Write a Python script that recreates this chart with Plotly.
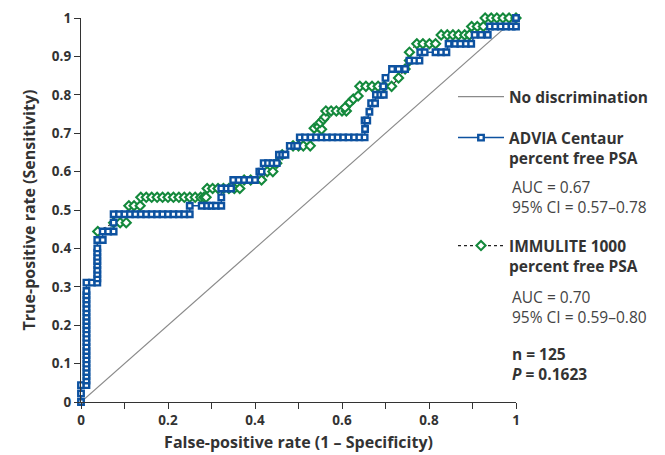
import plotly.graph_objects as go

# ---------------- data ----------------
diag_x = [0, 1]
diag_y = [0, 1]

advia_fpr = [
    0, 0, 0,
    0.0125, 0.0125, 0.0125, 0.0125, 0.0125, 0.0125, 0.0125, 0.0125, 0.0125, 0.0125,
    0.0125, 0.0125, 0.0125, 0.0125, 0.0125, 0.0125, 0.0125, 0.0125, 0.0125, 0.0125,
    0.0125, 0.0125, 0.0125, 0.0125,
    0.025, 0.0375,
    0.0375, 0.0375, 0.0375, 0.0375, 0.0375, 0.0375, 0.0375, 0.0375,
    0.0375, 0.05,
    0.05, 0.0625, 0.075,
    0.075, 0.075, 0.0875, 0.1, 0.1125, 0.125, 0.1375, 0.15, 0.1625, 0.175, 0.1875,
    0.2, 0.2125, 0.225, 0.2375, 0.25,
    0.25, 0.2775, 0.29, 0.3, 0.31, 0.3225,
    0.3225, 0.3225, 0.335, 0.345,
    0.35, 0.3625, 0.375, 0.3875, 0.4,
    0.41, 0.415,
    0.42, 0.43, 0.44, 0.45,
    0.455, 0.4625, 0.47,
    0.48, 0.49, 0.497,
    0.503, 0.515, 0.528, 0.54, 0.553, 0.565, 0.578, 0.59, 0.603, 0.615, 0.628,
    0.64, 0.652,
    0.653,
    0.652, 0.658,
    0.663,
    0.667, 0.676,
    0.678, 0.688, 0.696,
    0.695, 0.7,
    0.715, 0.73, 0.745,
    0.755, 0.767, 0.778,
    0.78, 0.79, 0.815, 0.828, 0.84,
    0.845, 0.86, 0.872, 0.885, 0.897,
    0.905, 0.92, 0.935,
    0.94, 0.952, 0.965, 0.977, 0.99, 1.0,
    1.0,
]
advia_tpr = [
    0, 0.022, 0.044,
    0.044, 0.056, 0.067, 0.078, 0.089, 0.1, 0.111, 0.122, 0.133, 0.144,
    0.156, 0.167, 0.178, 0.189, 0.2, 0.211, 0.222, 0.233, 0.244, 0.256,
    0.267, 0.278, 0.289, 0.311,
    0.311, 0.311,
    0.322, 0.333, 0.344, 0.356, 0.367, 0.378, 0.389, 0.4,
    0.422, 0.422,
    0.444, 0.444, 0.444,
    0.467, 0.489, 0.489, 0.489, 0.489, 0.489, 0.489, 0.489, 0.489, 0.489, 0.489,
    0.489, 0.489, 0.489, 0.489, 0.489,
    0.511, 0.511, 0.511, 0.511, 0.511, 0.511,
    0.533, 0.556, 0.556, 0.556,
    0.578, 0.578, 0.578, 0.578, 0.578,
    0.6, 0.6,
    0.622, 0.622, 0.622, 0.622,
    0.644, 0.644, 0.644,
    0.667, 0.667, 0.667,
    0.689, 0.689, 0.689, 0.689, 0.689, 0.689, 0.689, 0.689, 0.689, 0.689, 0.689,
    0.689, 0.689,
    0.711,
    0.733, 0.733,
    0.756,
    0.778, 0.778,
    0.8, 0.8, 0.8,
    0.822, 0.844,
    0.867, 0.867, 0.867,
    0.889, 0.889, 0.889,
    0.911, 0.911, 0.911, 0.911, 0.911,
    0.933, 0.933, 0.933, 0.933, 0.933,
    0.956, 0.956, 0.956,
    0.978, 0.978, 0.978, 0.978, 0.978, 0.978,
    1.0,
]

immulite_fpr = [
    0.0385,
    0.075, 0.09, 0.104,
    0.11, 0.122, 0.136,
    0.1375, 0.15, 0.1625, 0.175, 0.1875, 0.2, 0.2125, 0.225, 0.2375, 0.25, 0.2625,
    0.275, 0.2825, 0.2875,
    0.29, 0.3025, 0.315, 0.3275, 0.34, 0.3525, 0.365,
    0.375, 0.39, 0.415,
    0.428, 0.441,
    0.45, 0.4625,
    0.4875, 0.5, 0.511, 0.527,
    0.536, 0.546, 0.553, 0.55, 0.557, 0.561,
    0.563, 0.575, 0.587, 0.6, 0.61,
    0.607, 0.618, 0.626, 0.637,
    0.641, 0.655, 0.669, 0.683, 0.697,
    0.714, 0.73,
    0.745, 0.755, 0.755,
    0.772, 0.786, 0.801, 0.815,
    0.828, 0.842, 0.855, 0.868, 0.882, 0.893,
    0.898, 0.911, 0.925,
    0.929, 0.943, 0.956, 0.97, 0.984,
    1.0,
]
immulite_tpr = [
    0.444,
    0.467, 0.467, 0.467,
    0.511, 0.511, 0.511,
    0.533, 0.533, 0.533, 0.533, 0.533, 0.533, 0.533, 0.533, 0.533, 0.533, 0.533,
    0.533, 0.533, 0.533,
    0.556, 0.556, 0.556, 0.556, 0.556, 0.556, 0.556,
    0.578, 0.578, 0.578,
    0.6, 0.6,
    0.622, 0.644,
    0.667, 0.667, 0.667, 0.667,
    0.713, 0.717, 0.71, 0.728, 0.736, 0.742,
    0.758, 0.758, 0.758, 0.758, 0.758,
    0.767, 0.78, 0.789, 0.797,
    0.822, 0.822, 0.822, 0.822, 0.822,
    0.822, 0.844,
    0.867, 0.889, 0.911,
    0.933, 0.933, 0.933, 0.933,
    0.956, 0.956, 0.956, 0.956, 0.956, 0.956,
    0.978, 0.978, 0.978,
    1.0, 1.0, 1.0, 1.0, 1.0,
    1.0,
]

x_tick_vals = [0, 0.2, 0.4, 0.6, 0.8, 1]
x_tick_text = ["0", "0.2", "0.4", "0.6", "0.8", "1"]
y_tick_vals = [0, 0.1, 0.2, 0.3, 0.4, 0.5, 0.6, 0.7, 0.8, 0.9, 1]
y_tick_text = ["0", "0.1", "0.2", "0.3", "0.4", "0.5", "0.6", "0.7", "0.8", "0.9", "1"]

advia_stats = "AUC = 0.67<br>95% CI = 0.57–0.78"
immulite_stats = "AUC = 0.70<br>95% CI = 0.59–0.80"
summary_text = "<b>n = 125</b><br><b><i>P</i> = 0.1623</b>"

# ---------------- styling ----------------
FONT = "Open Sans"
DARK = "#333333"
BLUE = "#0d52a0"
GREEN = "#14893c"
GRAY = "#8a8a8a"

W, H = 665, 455
ML, MR, MT, MB = 81, 149, 18, 53
PW = W - ML - MR
PH = H - MT - MB


def px_x(p):
    return (p - ML) / PW


def px_y(p):
    return (H - MB - p) / PH


fig = go.Figure()

fig.add_trace(go.Scatter(
    x=diag_x, y=diag_y, mode="lines", name="<b>No discrimination</b>",
    line=dict(color=GRAY, width=1.2), legend="legend", hoverinfo="skip",
))
fig.add_trace(go.Scatter(
    x=immulite_fpr, y=immulite_tpr, mode="lines+markers",
    name="<b>IMMULITE 1000</b><br><b>percent free PSA</b>",
    line=dict(color="#222222", width=1.1, dash="dot"),
    marker=dict(symbol="diamond", size=7, color="white",
                line=dict(color=GREEN, width=2.1)),
    legend="legend3", cliponaxis=False,
))
fig.add_trace(go.Scatter(
    x=advia_fpr, y=advia_tpr, mode="lines+markers",
    name="<b>ADVIA Centaur</b><br><b>percent free PSA</b>",
    line=dict(color=BLUE, width=1.5),
    marker=dict(symbol="square", size=5.5, color="white",
                line=dict(color=BLUE, width=2.4)),
    legend="legend2", cliponaxis=False,
))

legend_common = dict(
    xanchor="left", yanchor="top", valign="top",
    font=dict(family=FONT, size=15.5, color=DARK),
    bgcolor="rgba(0,0,0,0)", borderwidth=0, itemwidth=46,
    itemclick=False, itemdoubleclick=False,
)

fig.update_layout(
    width=W, height=H,
    margin=dict(l=ML, r=MR, t=MT, b=MB, pad=0, autoexpand=False),
    paper_bgcolor="white", plot_bgcolor="white",
    font=dict(family=FONT, color=DARK),
    showlegend=True,
    legend=dict(x=px_x(453), y=px_y(80), **legend_common),
    legend2=dict(x=px_x(453), y=px_y(121), **legend_common),
    legend3=dict(x=px_x(453), y=px_y(229), **legend_common),
    xaxis=dict(
        range=[0, 1], showgrid=False, zeroline=False, automargin=False,
        showline=True, linecolor=DARK, linewidth=1.3,
        ticks="outside", ticklen=6, tickwidth=1.3, tickcolor=DARK,
        tickvals=x_tick_vals, ticktext=x_tick_text,
        tickfont=dict(family=FONT, size=13.5, color=DARK, weight="bold"),
        minor=dict(ticks="outside", ticklen=6, tickwidth=1.3, tickcolor=DARK,
                   tick0=0, dtick=0.1),
        title=dict(text="<b>False-positive rate (1 – Specificity)</b>",
                   font=dict(family=FONT, size=16, color=DARK), standoff=8),
    ),
    yaxis=dict(
        range=[0, 1], showgrid=False, zeroline=False, automargin=False,
        showline=True, linecolor=DARK, linewidth=1.3,
        ticks="outside", ticklen=6, tickwidth=1.3, tickcolor=DARK,
        tickvals=y_tick_vals, ticktext=y_tick_text,
        tickfont=dict(family=FONT, size=13.5, color=DARK, weight="bold"),
        title=dict(text="<b>True-positive rate (Sensitivity)</b>",
                   font=dict(family=FONT, size=16, color=DARK), standoff=12),
    ),
    annotations=[
        dict(text=advia_stats, x=px_x(510), y=px_y(174), xref="paper", yref="paper",
             xanchor="left", yanchor="top", align="left", showarrow=False,
             font=dict(family=FONT, size=15.5, color="#444444")),
        dict(text=immulite_stats, x=px_x(510), y=px_y(284), xref="paper", yref="paper",
             xanchor="left", yanchor="top", align="left", showarrow=False,
             font=dict(family=FONT, size=15.5, color="#444444")),
        dict(text=summary_text, x=px_x(510), y=px_y(341), xref="paper", yref="paper",
             xanchor="left", yanchor="top", align="left", showarrow=False,
             font=dict(family=FONT, size=15.5, color=DARK)),
    ],
)

fig.write_html("out.html", config={"displayModeBar": False},
               post_script="document.body.style.margin='0px';")
